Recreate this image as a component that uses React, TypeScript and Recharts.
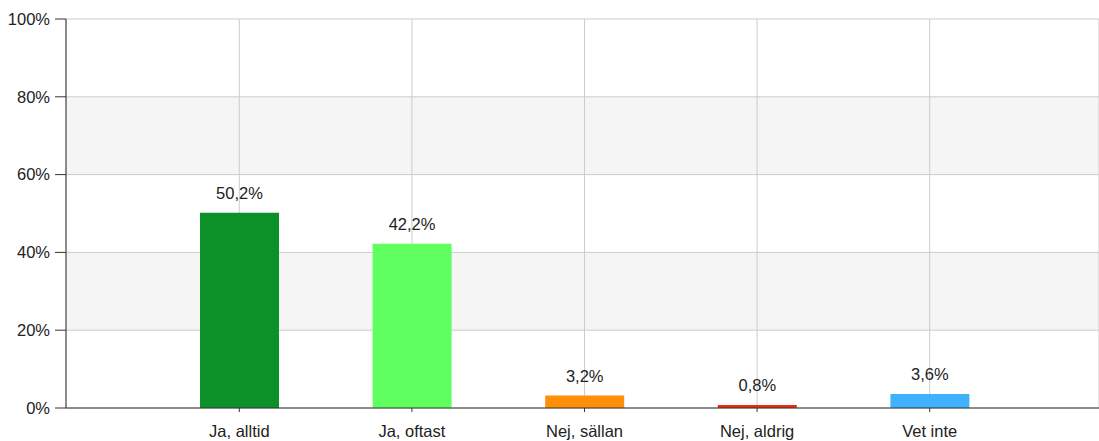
import React from 'react';
import { BarChart, Bar, XAxis, YAxis, CartesianGrid, Cell, LabelList } from 'recharts';

const categories = ['Ja, alltid', 'Ja, oftast', 'Nej, sällan', 'Nej, aldrig', 'Vet inte'];
const shares = [50.2, 42.2, 3.2, 0.8, 3.6];
const barColors = ['#0c9128', '#5fff5f', '#ff8f0a', '#ee2a0c', '#40b1fc'];
const yTicks = [0, 20, 40, 60, 80, 100];

const data = categories.map((name, i) => ({ name, value: shares[i] }));

const FONT = '"Liberation Sans", Arial, sans-serif';
const fmt = (v: number) => `${String(v).replace('.', ',')}%`;

const App: React.FC = () => {
  return (
    <div style={{ position: 'absolute', left: 0, top: 0, background: '#fff' }}>
      <BarChart width={1099} height={441} data={data} margin={{ top: 19, right: 0, bottom: 0, left: 0 }}>
        <CartesianGrid
          stroke="#cccccc"
          horizontalFill={['#ffffff', '#f5f5f5']}
          fillOpacity={1}
        />
        <XAxis
          dataKey="name"
          height={33}
          padding={{ left: 87, right: 83 }}
          axisLine={{ stroke: '#333' }}
          tickLine={{ stroke: '#333' }}
          tickSize={4}
          tickMargin={13}
          tick={{ fill: '#222', fontSize: 16.5, fontFamily: FONT }}
          interval={0}
        />
        <YAxis
          width={66}
          domain={[0, 100]}
          ticks={yTicks}
          tickFormatter={(v: number) => `${v}%`}
          axisLine={{ stroke: '#333' }}
          tickLine={{ stroke: '#333' }}
          tickSize={11}
          tickMargin={5}
          tick={{ fill: '#222', fontSize: 16.5, fontFamily: FONT }}
        />
        <Bar dataKey="value" barSize={79} isAnimationActive={false}>
          {data.map((entry, index) => (
            <Cell key={`cell-${index}`} fill={barColors[index]} />
          ))}
          <LabelList
            dataKey="value"
            position="top"
            offset={14}
            formatter={(v: any) => fmt(Number(v))}
            style={{ fill: '#222', fontSize: 16.5, fontFamily: FONT }}
          />
        </Bar>
      </BarChart>
    </div>
  );
};

export default App;
